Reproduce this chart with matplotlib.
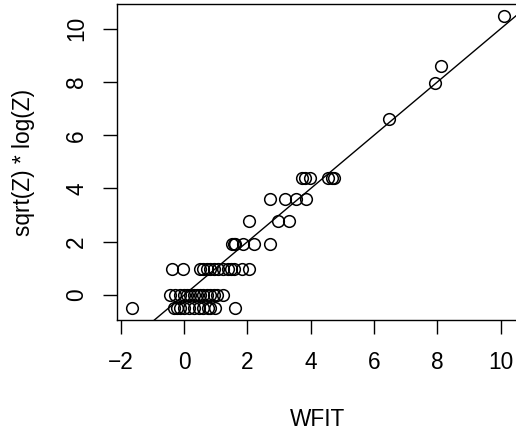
import matplotlib
matplotlib.use("Agg")
import matplotlib.pyplot as plt
import numpy as np

plt.rcParams['font.family'] = ['Liberation Sans', 'DejaVu Sans']

# fitted values (WFIT) and transformed response, row by row
wfit_15 = [10.11]
wfit_12 = [8.11]
wfit_11 = [7.93]
wfit_9 = [6.46]
wfit_6 = [3.72, 3.82, 3.98, 4.56, 4.67, 4.74]
wfit_5 = [2.70, 3.19, 3.54, 3.85]
wfit_4 = [2.05, 2.95, 3.30]
wfit_3 = [1.51, 1.56, 1.61, 1.85, 2.22, 2.70]
wfit_2 = [-0.37, -0.04, 0.51, 0.61, 0.72, 0.82, 0.95, 1.08, 1.24, 1.40, 1.47,
          1.56, 1.82, 2.06]
wfit_1 = [-0.44, -0.28, -0.12, -0.02, 0.09, 0.19, 0.30, 0.40, 0.51, 0.61, 0.72,
          0.82, 0.93, 1.03, 1.22]
wfit_0 = [-1.65, -0.33, -0.23, -0.12, -0.02, 0.14, 0.30, 0.46, 0.61, 0.74, 0.82,
          0.98, 1.62]

z_levels = [15, 12, 11, 9, 6, 5, 4, 3, 2, 1, 0]
rows = [wfit_15, wfit_12, wfit_11, wfit_9, wfit_6, wfit_5, wfit_4, wfit_3,
        wfit_2, wfit_1, wfit_0]


def transform(z):
    # zero counts are plotted at -0.5
    return np.sqrt(z) * np.log(z) if z > 0 else -0.5


x = []
y = []
for z, r in zip(z_levels, rows):
    x += r
    y += [transform(z)] * len(r)

fs = 16.3

fig = plt.figure(figsize=(5.16, 4.38), dpi=100)
ax = fig.add_axes([0.2262, 0.2694, 0.7796, 0.7215])

ax.plot(x, y, 'o', mfc='none', mec='black', ms=8.4, mew=1.1)

xlim = (-2.13, 10.58)
ax.set_xlim(xlim)
ax.set_ylim(-0.94, 10.93)
xx = np.array(xlim)
ax.plot(xx, xx, color='black', lw=1.0)

ax.set_xticks([-2, 0, 2, 4, 6, 8, 10])
ax.set_xticklabels(['\u22122', '0', '2', '4', '6', '8', '10'])
ax.set_yticks([0, 2, 4, 6, 8, 10])
for lab in ax.get_yticklabels():
    lab.set_rotation(90)
    lab.set_va('center')
ax.tick_params(direction='out', length=10, width=1.0, labelsize=fs)
ax.tick_params(axis='x', pad=12.6)
ax.tick_params(axis='y', pad=10.5)
for s in ax.spines.values():
    s.set_linewidth(1.0)

ax.set_xlabel('WFIT', fontsize=fs, labelpad=24)
ax.set_ylabel('sqrt(Z) * log(Z)', fontsize=fs, labelpad=22)

fig.savefig('out.png', dpi=100)
